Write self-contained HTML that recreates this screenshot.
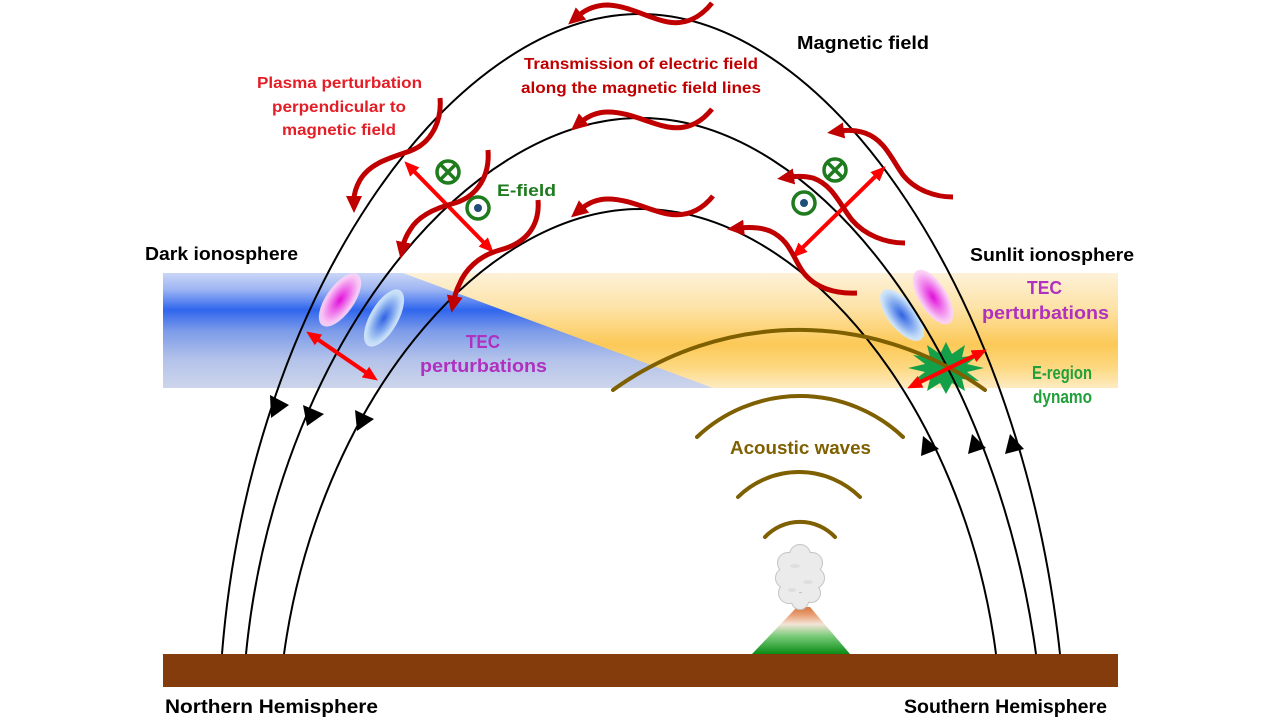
<!DOCTYPE html>
<html><head><meta charset="utf-8"><style>
html,body{margin:0;padding:0;background:#fff;}
svg{display:block;}
text{font-family:"Liberation Sans",Arial,sans-serif;font-weight:bold;}
</style></head><body>
<svg width="1280" height="720" viewBox="0 0 1280 720" xmlns="http://www.w3.org/2000/svg">
<defs>
<linearGradient id="gb" x1="0" y1="273" x2="0" y2="388" gradientUnits="userSpaceOnUse">
<stop offset="0" stop-color="#cad6f6"/><stop offset="0.14" stop-color="#9fb6f3"/><stop offset="0.32" stop-color="#3066ee"/><stop offset="0.5" stop-color="#7b9ae9"/><stop offset="0.75" stop-color="#b3c2ea"/><stop offset="1" stop-color="#cdd5eb"/>
</linearGradient>
<linearGradient id="gy" x1="0" y1="273" x2="0" y2="388" gradientUnits="userSpaceOnUse">
<stop offset="0" stop-color="#fdf1d8"/><stop offset="0.3" stop-color="#fde3a8"/><stop offset="0.62" stop-color="#fcc957"/><stop offset="0.82" stop-color="#fdd880"/><stop offset="1" stop-color="#fdebc2"/>
</linearGradient>
<radialGradient id="gp"><stop offset="0" stop-color="#e010d8"/><stop offset="0.45" stop-color="#ee70ea"/><stop offset="0.85" stop-color="#f8c4f4"/><stop offset="1" stop-color="#fad6f8" stop-opacity="0.9"/></radialGradient>
<radialGradient id="gbl"><stop offset="0" stop-color="#2f62e2"/><stop offset="0.45" stop-color="#7aa2ee"/><stop offset="0.85" stop-color="#c2dcf7"/><stop offset="1" stop-color="#d6e8fa" stop-opacity="0.9"/></radialGradient>
<linearGradient id="gv" x1="0" y1="606" x2="0" y2="654" gradientUnits="userSpaceOnUse">
<stop offset="0" stop-color="#d8703a"/><stop offset="0.18" stop-color="#e89e72"/><stop offset="0.38" stop-color="#f3e4d6"/><stop offset="0.62" stop-color="#7ccc7c"/><stop offset="1" stop-color="#0a8c16"/>
</linearGradient>
<marker id="mw" markerUnits="userSpaceOnUse" markerWidth="18" markerHeight="18" refX="4" refY="8" orient="auto" viewBox="0 0 18 16"><path d="M0,0 L17,8 L0,16 z" fill="#c00000"/></marker>
<marker id="mr" markerUnits="userSpaceOnUse" markerWidth="16" markerHeight="14" refX="2" refY="6.5" orient="auto-start-reverse" viewBox="0 0 16 13"><path d="M0,0 L15,6.5 L0,13 z" fill="#ff0000"/></marker>
</defs>

<!-- ionosphere band -->
<rect x="163" y="273" width="955" height="115" fill="url(#gb)"/>
<polygon points="403,273 1118,273 1118,388 713,388" fill="url(#gy)"/>

<!-- TEC blobs -->
<ellipse cx="340" cy="300" rx="31" ry="14" transform="rotate(-55 340 300)" fill="url(#gp)"/>
<ellipse cx="384" cy="318" rx="32" ry="14" transform="rotate(-60 384 318)" fill="url(#gbl)"/>
<ellipse cx="902" cy="315" rx="31" ry="14" transform="rotate(52 902 315)" fill="url(#gbl)"/>
<ellipse cx="933" cy="297" rx="31" ry="14" transform="rotate(58 933 297)" fill="url(#gp)"/>

<!-- dynamo star -->
<polygon points="984,368 967,372 979,381 962,379 965,391 952,383 946,394 940,383 927,391 930,379 913,381 925,372 908,368 925,364 913,355 930,357 927,345 940,354 946,342 952,354 965,345 962,357 979,355 967,364" fill="#14a048"/>

<!-- ground -->
<rect x="163" y="654" width="955" height="33" fill="#843c0c"/>

<!-- volcano -->
<polygon points="752,654 850,654 810,607 797,607" fill="url(#gv)"/>
<g fill="#ebebeb" stroke="#c4c4c4" stroke-width="2">
<circle cx="800" cy="555" r="10"/><circle cx="788" cy="563" r="10"/><circle cx="812" cy="563" r="10"/>
<circle cx="786" cy="578" r="10"/><circle cx="814" cy="578" r="10"/><circle cx="789" cy="593" r="10"/>
<circle cx="811" cy="593" r="9"/><circle cx="800" cy="601" r="8"/>
</g>
<g fill="#ebebeb">
<circle cx="800" cy="555" r="10"/><circle cx="788" cy="563" r="10"/><circle cx="812" cy="563" r="10"/>
<circle cx="786" cy="578" r="10"/><circle cx="814" cy="578" r="10"/><circle cx="789" cy="593" r="10"/>
<circle cx="811" cy="593" r="9"/><circle cx="800" cy="601" r="8"/><circle cx="800" cy="577" r="15"/>
</g>
<g fill="#dedede"><ellipse cx="795" cy="566" rx="5" ry="2"/><ellipse cx="808" cy="582" rx="5" ry="2"/><ellipse cx="792" cy="590" rx="4" ry="2"/></g>

<!-- field lines -->
<g fill="none" stroke="#000" stroke-width="2">
<path d="M222,654 C250,300 450,14 640,14 C830,14 1022,300 1060,654"/>
<path d="M246,654 C275,357 461,118 641,118 C820,118 995,357 1036,654"/>
<path d="M284,654 C318,408 479,209 641,209 C803,209 964,408 996,654"/>
</g>
<g fill="#000">
<polygon points="270,395 289,405 271,418"/>
<polygon points="303,405 324,414 307,426"/>
<polygon points="355,410 374,419 357,431"/>
<polygon points="923,436 939,449 921,456"/>
<polygon points="972,434 986,448 968,454"/>
<polygon points="1010,434 1024,449 1005,454"/>
</g>

<!-- acoustic waves -->
<g fill="none" stroke="#7f6000" stroke-width="4" stroke-linecap="round">
<path d="M613,390 A318,318 0 0 1 985,390"/>
<path d="M697,437 A150,150 0 0 1 903,437"/>
<path d="M738,497 A87,87 0 0 1 860,497"/>
<path d="M765,537 A48,48 0 0 1 835,537"/>
</g>

<!-- straight red double arrows -->
<g stroke="#ff0000" stroke-width="4" marker-start="url(#mr)" marker-end="url(#mr)">
<line x1="413.4" y1="170.6" x2="484.6" y2="243.4"/>
<line x1="876.4" y1="175.4" x2="801.6" y2="248.6"/>
<line x1="316.9" y1="338.8" x2="367.1" y2="373.2"/>
<line x1="918.8" y1="382.7" x2="975.2" y2="355.3"/>
</g>

<!-- wavy arrows -->
<g fill="none" stroke="#c00000" stroke-width="5" marker-end="url(#mw)">
<path d="M712,3 C700,18 685,25 668,22 C650,19 630,6 608,5 C595,5 585,10 578,16"/>
<path d="M712,109 C700,124 685,130 668,127 C650,124 630,112 608,112 C596,112 587,117 581,122"/>
<path d="M713,196 C701,211 686,217 668,214 C650,211 630,199 608,199 C596,199 587,204 581,209"/>
<path d="M953,197 C935,197 915,190 903,175 C892,160 885,140 865,133 C855,130 847,130 840,131"/>
<path d="M905,243 C885,243 865,235 852,220 C840,205 833,185 813,178 C805,176 797,176 790,177"/>
<path d="M857,293 C835,294 815,288 803,272 C793,258 790,240 770,231 C760,227 750,227 740,228"/>
<path d="M440,98 C442,120 432,143 410,151 C390,158 370,163 360,180 C356,187 354,193 354,200"/>
<path d="M488,150 C490,175 478,196 455,203 C435,208 418,216 410,230 C406,236 404,241 403,246"/>
<path d="M538,200 C540,225 527,243 500,250 C478,256 465,270 459,285 C456,291 455,295 454,300"/>
</g>

<!-- E-field symbols -->
<g fill="none" stroke="#1e7b1e" stroke-width="3.5">
<circle cx="448" cy="172" r="11"/><line x1="441" y1="165" x2="455" y2="179"/><line x1="455" y1="165" x2="441" y2="179"/>
<circle cx="478" cy="208" r="11"/>
<circle cx="835" cy="170" r="11"/><line x1="828" y1="163" x2="842" y2="177"/><line x1="842" y1="163" x2="828" y2="177"/>
<circle cx="804" cy="203" r="11"/>
</g>
<circle cx="478" cy="208" r="4" fill="#1f4e79"/>
<circle cx="804" cy="203" r="4" fill="#1f4e79"/>

<!-- labels -->
<text x="797" y="49" font-size="18" fill="#000" textLength="132" lengthAdjust="spacingAndGlyphs">Magnetic field</text>
<text x="524" y="69" font-size="16" fill="#c00000" textLength="234" lengthAdjust="spacingAndGlyphs">Transmission of electric field</text>
<text x="521" y="93" font-size="16" fill="#c00000" textLength="240" lengthAdjust="spacingAndGlyphs">along the magnetic field lines</text>
<text x="257" y="88" font-size="16" fill="#e41e26" textLength="165" lengthAdjust="spacingAndGlyphs">Plasma perturbation</text>
<text x="272" y="112" font-size="16" fill="#e41e26" textLength="134" lengthAdjust="spacingAndGlyphs">perpendicular to</text>
<text x="282" y="135" font-size="16" fill="#e41e26" textLength="114" lengthAdjust="spacingAndGlyphs">magnetic field</text>
<text x="497" y="196" font-size="17" fill="#1e7b1e" textLength="59" lengthAdjust="spacingAndGlyphs">E-field</text>
<text x="145" y="260" font-size="18" fill="#000" textLength="153" lengthAdjust="spacingAndGlyphs">Dark ionosphere</text>
<text x="970" y="261" font-size="18" fill="#000" textLength="164" lengthAdjust="spacingAndGlyphs">Sunlit ionosphere</text>
<text x="466" y="348" font-size="18" fill="#b030c0" textLength="34" lengthAdjust="spacingAndGlyphs">TEC</text>
<text x="420" y="372" font-size="18" fill="#b030c0" textLength="127" lengthAdjust="spacingAndGlyphs">perturbations</text>
<text x="1027" y="294" font-size="18" fill="#b030c0" textLength="35" lengthAdjust="spacingAndGlyphs">TEC</text>
<text x="982" y="319" font-size="18" fill="#b030c0" textLength="127" lengthAdjust="spacingAndGlyphs">perturbations</text>
<text x="1032" y="379" font-size="18" fill="#22a03a" textLength="60" lengthAdjust="spacingAndGlyphs">E-region</text>
<text x="1033" y="403" font-size="18" fill="#22a03a" textLength="59" lengthAdjust="spacingAndGlyphs">dynamo</text>
<text x="730" y="454" font-size="18" fill="#7f6000" textLength="141" lengthAdjust="spacingAndGlyphs">Acoustic waves</text>
<text x="165" y="713" font-size="19" fill="#000" textLength="213" lengthAdjust="spacingAndGlyphs">Northern Hemisphere</text>
<text x="904" y="713" font-size="19" fill="#000" textLength="203" lengthAdjust="spacingAndGlyphs">Southern Hemisphere</text>
</svg>
</body></html>
